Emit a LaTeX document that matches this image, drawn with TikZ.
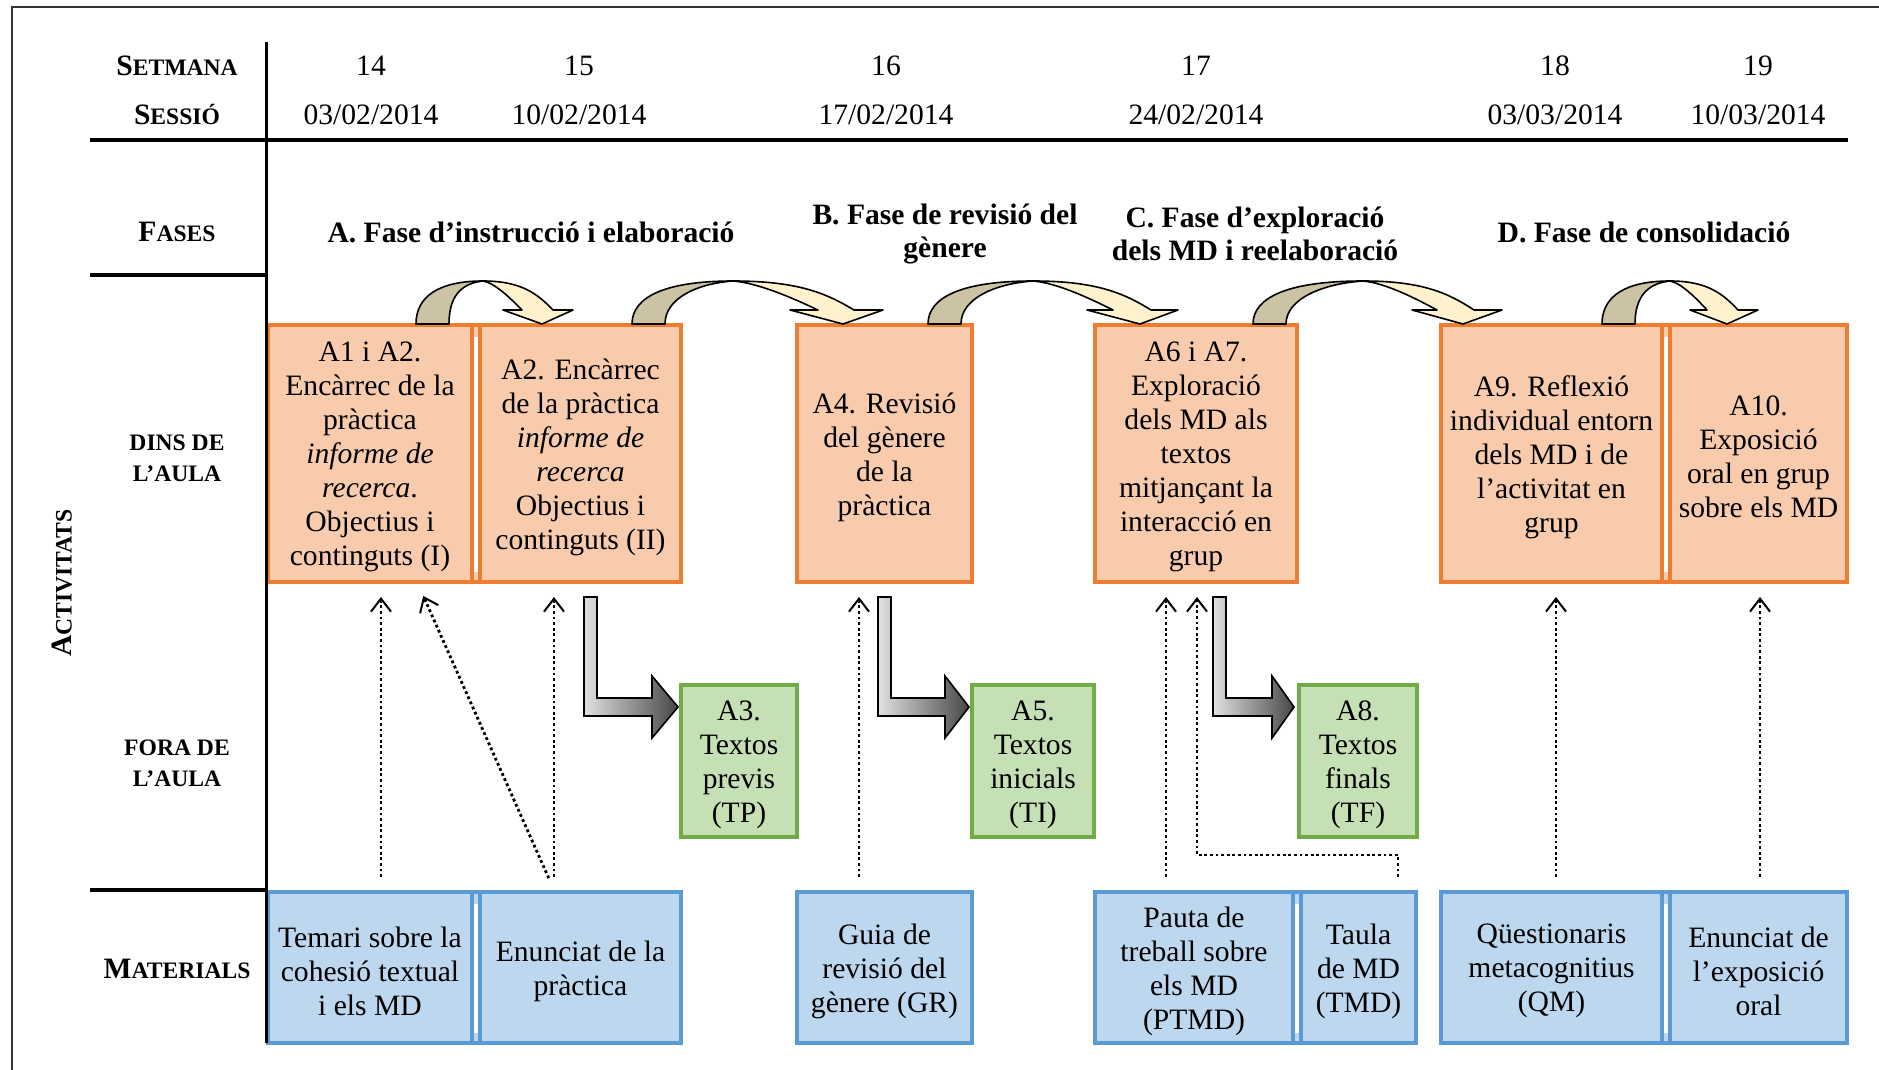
\documentclass[tikz,border=0pt]{standalone}
\usepackage{fontspec}
\setmainfont{Liberation Serif}
\usetikzlibrary{arrows.meta}

\definecolor{ofill}{HTML}{F8CBAD}
\definecolor{oline}{HTML}{ED7D31}
\definecolor{gfill}{HTML}{C5E0B4}
\definecolor{gline}{HTML}{70AD47}
\definecolor{bfill}{HTML}{BDD7EE}
\definecolor{bline}{HTML}{5B9BD5}
\definecolor{bandtan}{HTML}{CCC2A4}
\definecolor{bandlight}{HTML}{FFF2CC}

% reduced capitals for the row headings
\newcommand\smallcap[1]{{\fontsize{11.8pt}{14pt}\selectfont #1}}

% curved "next session" arrow: base left x, apex x, tip x, left barb, right barb, neck offset
\newcommand\bendarrow[6]{%
  \pgfmathsetmacro\bL{#1}\pgfmathsetmacro\bA{#2}\pgfmathsetmacro\bT{#3}%
  \pgfmathsetmacro\hA{\bA-\bL}%
  \pgfmathsetmacro\nL{\bT-#6}\pgfmathsetmacro\nR{\bT+11}%
  \pgfmathsetmacro\bwL{\bT-#4}\pgfmathsetmacro\bwR{\bT+#5}%
  \filldraw[bandfront] (\bA,281)
    .. controls ({\bA+0.55*(\nR-\bA)},281) and ({\nR-0.22*(\nR-\bA)},294) .. (\nR,310)
    -- (\bwR,310) -- (\bT,324) -- (\bwL,310) -- (\nL,310)
    .. controls ({\nL-0.3*(\nL-\bA)},298) and ({\bA+0.3*(\nL-\bA)},283) .. (\bA,281) -- cycle;
  \filldraw[bandback] (\bL,324)
    .. controls (\bL,296) and ({\bL+0.35*\hA},281) .. (\bA,281)
    .. controls ({\bA-0.35*\hA},283.5) and ({\bL+33},298) .. ({\bL+33},324) -- cycle;
}

% join of two neighbouring boxes: continuous outer border, white strip between
\newcommand\pairjoin[5]{%
  \fill[#1] ({#3-4},{#4-2}) rectangle ({#3+4},{#4+2});
  \fill[#1] ({#3-4},{#5-2}) rectangle ({#3+4},{#5+2});
  \fill[#2] ({#3-2},{#4+2}) rectangle ({#3+2},{#4+12});
  \fill[#2] ({#3-2},{#5-2}) rectangle ({#3+2},{#5-10});
}

% grey bent arrow from a session to the work done outside the classroom
\newcommand\bentarrow[3]{%
  \draw[bentshade] (#1,597) -- ({#1+13},597) -- ({#1+13},698) -- (#2,698) -- (#2,676)
    -- (#3,707) -- (#2,738) -- (#2,716) -- (#1,716) -- cycle;
}

\begin{document}
\begin{tikzpicture}[x=0.5pt, y=-0.5pt,
  font=\fontsize{14.8pt}{17pt}\selectfont,
  every node/.style={inner sep=0pt},
  cell/.style={align=center, line width=2pt},
  actbox/.style={cell, draw=oline, fill=ofill, minimum height=128.5pt},
  outbox/.style={cell, draw=gline, fill=gfill, minimum height=76pt},
  matbox/.style={cell, draw=bline, fill=bfill, minimum height=75.5pt},
  celltext/.style={align=center, yshift=-1.8pt},
  rowlabel/.style={font=\fontsize{14.8pt}{15.5pt}\selectfont\bfseries, align=center},
  phase/.style={font=\fontsize{14.8pt}{16.5pt}\selectfont\bfseries, align=center},
  rule/.style={line width=1.6pt},
  dotarrow/.style={line width=1.4pt, dash pattern=on 1.4pt off 1.4pt,
    -{Straight Barb[length=6.5pt,width=10pt,line width=1pt]},
    shorten <=6.5pt, shorten >=6.5pt},
  bandfront/.style={fill=bandlight, draw=black, line width=0.8pt, line join=round},
  bandback/.style={fill=bandtan, draw=black, line width=0.8pt, line join=round},
  bentshade/.style={draw=black, line width=0.8pt, left color=black!12, right color=black!72},
]
\useasboundingbox (0,0) rectangle (1879,1070);
\fill[white] (0,0) rectangle (1879,1070);

% outer frame
\draw[line width=1.3pt, black!80] (12,1070) -- (12,7) -- (1879,7);

% header rows
\node[rowlabel] (lsetmana) at (177,66) {S\smallcap{ETMANA}};
\node[rowlabel] (lsessio) at (177,115) {S\smallcap{ESSIÓ}};
\node[rowlabel] (lfases) at (177,232) {F\smallcap{ASES}};
\node[rowlabel] (ldins) at (177,458) {\smallcap{DINS DE}\\\smallcap{L’AULA}};
\node[rowlabel] (lfora) at (177,763) {\smallcap{FORA DE}\\\smallcap{L’AULA}};
\node[rowlabel] (lmat) at (177,969) {M\smallcap{ATERIALS}};
\node[rowlabel, rotate=90] (lact) at (62,583) {A\smallcap{CTIVITATS}};

\node (w14) at (371,66) {14};   \node (d14) at (371,115) {03/02/2014};
\node (w15) at (579,66) {15};   \node (d15) at (579,115) {10/02/2014};
\node (w16) at (886,66) {16};   \node (d16) at (886,115) {17/02/2014};
\node (w17) at (1196,66) {17};  \node (d17) at (1196,115) {24/02/2014};
\node (w18) at (1555,66) {18};  \node (d18) at (1555,115) {03/03/2014};
\node (w19) at (1758,66) {19};  \node (d19) at (1758,115) {10/03/2014};

% phases
\node[phase] (fa) at (531,232) {A. Fase d’instrucció i elaboració};
\node[phase] (fb) at (945,234) {B. Fase de revisió del\\gènere};
\node[phase] (fc) at (1255,234) {C. Fase d’exploració\\dels MD i reelaboració};
\node[phase] (fd) at (1644,232) {D. Fase de consolidació};

% activities in the classroom
\node[actbox, minimum width=102pt] (a1) at (370,453.5) {};
\node[actbox, minimum width=100.5pt] (a2) at (580.5,453.5) {};
\node[actbox, minimum width=87.5pt] (a4) at (884.5,453.5) {};
\node[actbox, minimum width=101pt] (a6) at (1196,453.5) {};
\node[actbox, minimum width=110.5pt] (a9) at (1551.5,453.5) {};
\node[actbox, minimum width=88.5pt] (a10) at (1758.5,453.5) {};
\pairjoin{oline}{ofill}{476}{325}{582}
\pairjoin{oline}{ofill}{1666}{325}{582}
\node[celltext] (a1t) at (a1.center) {A1 i A2.\\Encàrrec de la\\pràctica\\\textit{informe de}\\\textit{recerca}.\\Objectius i\\continguts (I)};
\node[celltext] (a2t) at (a2.center) {A2. Encàrrec\\de la pràctica\\\textit{informe de}\\\textit{recerca}\\Objectius i\\continguts (II)};
\node[celltext] (a4t) at (a4.center) {A4. Revisió\\del gènere\\de la\\pràctica};
\node[celltext] (a6t) at (a6.center) {A6 i A7.\\Exploració\\dels MD als\\textos\\mitjançant la\\interacció en\\grup};
\node[celltext] (a9t) at (a9.center) {A9. Reflexió\\individual entorn\\dels MD i de\\l’activitat en\\grup};
\node[celltext] (a10t) at (a10.center) {A10.\\Exposició\\oral en grup\\sobre els MD};

% activities outside the classroom
\node[outbox, minimum width=58pt] (a3) at (739,761) {};
\node[outbox, minimum width=61pt] (a5) at (1033,761) {};
\node[outbox, minimum width=59pt] (a8) at (1358,761) {};
\node[celltext] (a3t) at (a3.center) {A3.\\Textos\\previs\\(TP)};
\node[celltext] (a5t) at (a5.center) {A5.\\Textos\\inicials\\(TI)};
\node[celltext] (a8t) at (a8.center) {A8.\\Textos\\finals\\(TF)};

% materials
\node[matbox, minimum width=102pt] (temari) at (370,967.5) {};
\node[matbox, minimum width=100.5pt] (enunciat) at (580.5,967.5) {};
\node[matbox, minimum width=87.5pt] (guia) at (884.5,967.5) {};
\node[matbox, minimum width=99pt] (pauta) at (1194,967.5) {};
\node[matbox, minimum width=57.5pt] (taula) at (1358.5,967.5) {};
\node[matbox, minimum width=110.5pt] (qm) at (1551.5,967.5) {};
\node[matbox, minimum width=88.5pt] (expo) at (1758.5,967.5) {};
\pairjoin{bline}{bfill}{476}{892}{1043}
\pairjoin{bline}{bfill}{1297}{892}{1043}
\pairjoin{bline}{bfill}{1666}{892}{1043}
\node[celltext] (temarit) at (temari.center) {Temari sobre la\\cohesió textual\\i els MD};
\node[celltext] (enunciatt) at (enunciat.center) {Enunciat de la\\pràctica};
\node[celltext] (guiat) at (guia.center) {Guia de\\revisió del\\gènere (GR)};
\node[celltext] (pautat) at (pauta.center) {Pauta de\\treball sobre\\els MD\\(PTMD)};
\node[celltext] (taulat) at (taula.center) {Taula\\de MD\\(TMD)};
\node[celltext] (qmt) at (qm.center) {Qüestionaris\\metacognitius\\(QM)};
\node[celltext] (expot) at (expo.center) {Enunciat de\\l’exposició\\oral};

% table rules
\draw[rule] (90,140) -- (1848,140);
\draw[rule] (90,275) -- (266,275);
\draw[rule] (90,890) -- (266,890);
\draw[line width=1.5pt] (266,42) -- (266,1043);

% sequence of sessions
\bendarrow{416}{483}{542}{39}{31}{20}
\bendarrow{632}{733}{843}{53}{40}{25}
\bendarrow{928}{1033}{1140}{53}{38}{27}
\bendarrow{1253}{1363}{1463}{51}{39}{26}
\bendarrow{1602}{1670}{1727}{37}{31}{20}

% work handed out to be done outside the classroom
\bentarrow{584}{652}{678}
\bentarrow{878}{945}{969}
\bentarrow{1213}{1272}{1294}

% materials used in each activity
\draw[dotarrow] (381,0 |- temari.north) -- (381,0 |- a1.south);
\draw[dotarrow] (554,0 |- enunciat.north) -- (418,0 |- a1.south);
\draw[dotarrow] (554,0 |- enunciat.north) -- (554,0 |- a2.south);
\draw[dotarrow] (859,0 |- guia.north) -- (859,0 |- a4.south);
\draw[dotarrow] (1166,0 |- pauta.north) -- (1166,0 |- a6.south);
\draw[dotarrow] (1398,0 |- taula.north) -- (1398,855) -- (1197,855) -- (1197,0 |- a6.south);
\draw[dotarrow] (1556,0 |- qm.north) -- (1556,0 |- a9.south);
\draw[dotarrow] (1760,0 |- expo.north) -- (1760,0 |- a10.south);
\end{tikzpicture}
\end{document}
